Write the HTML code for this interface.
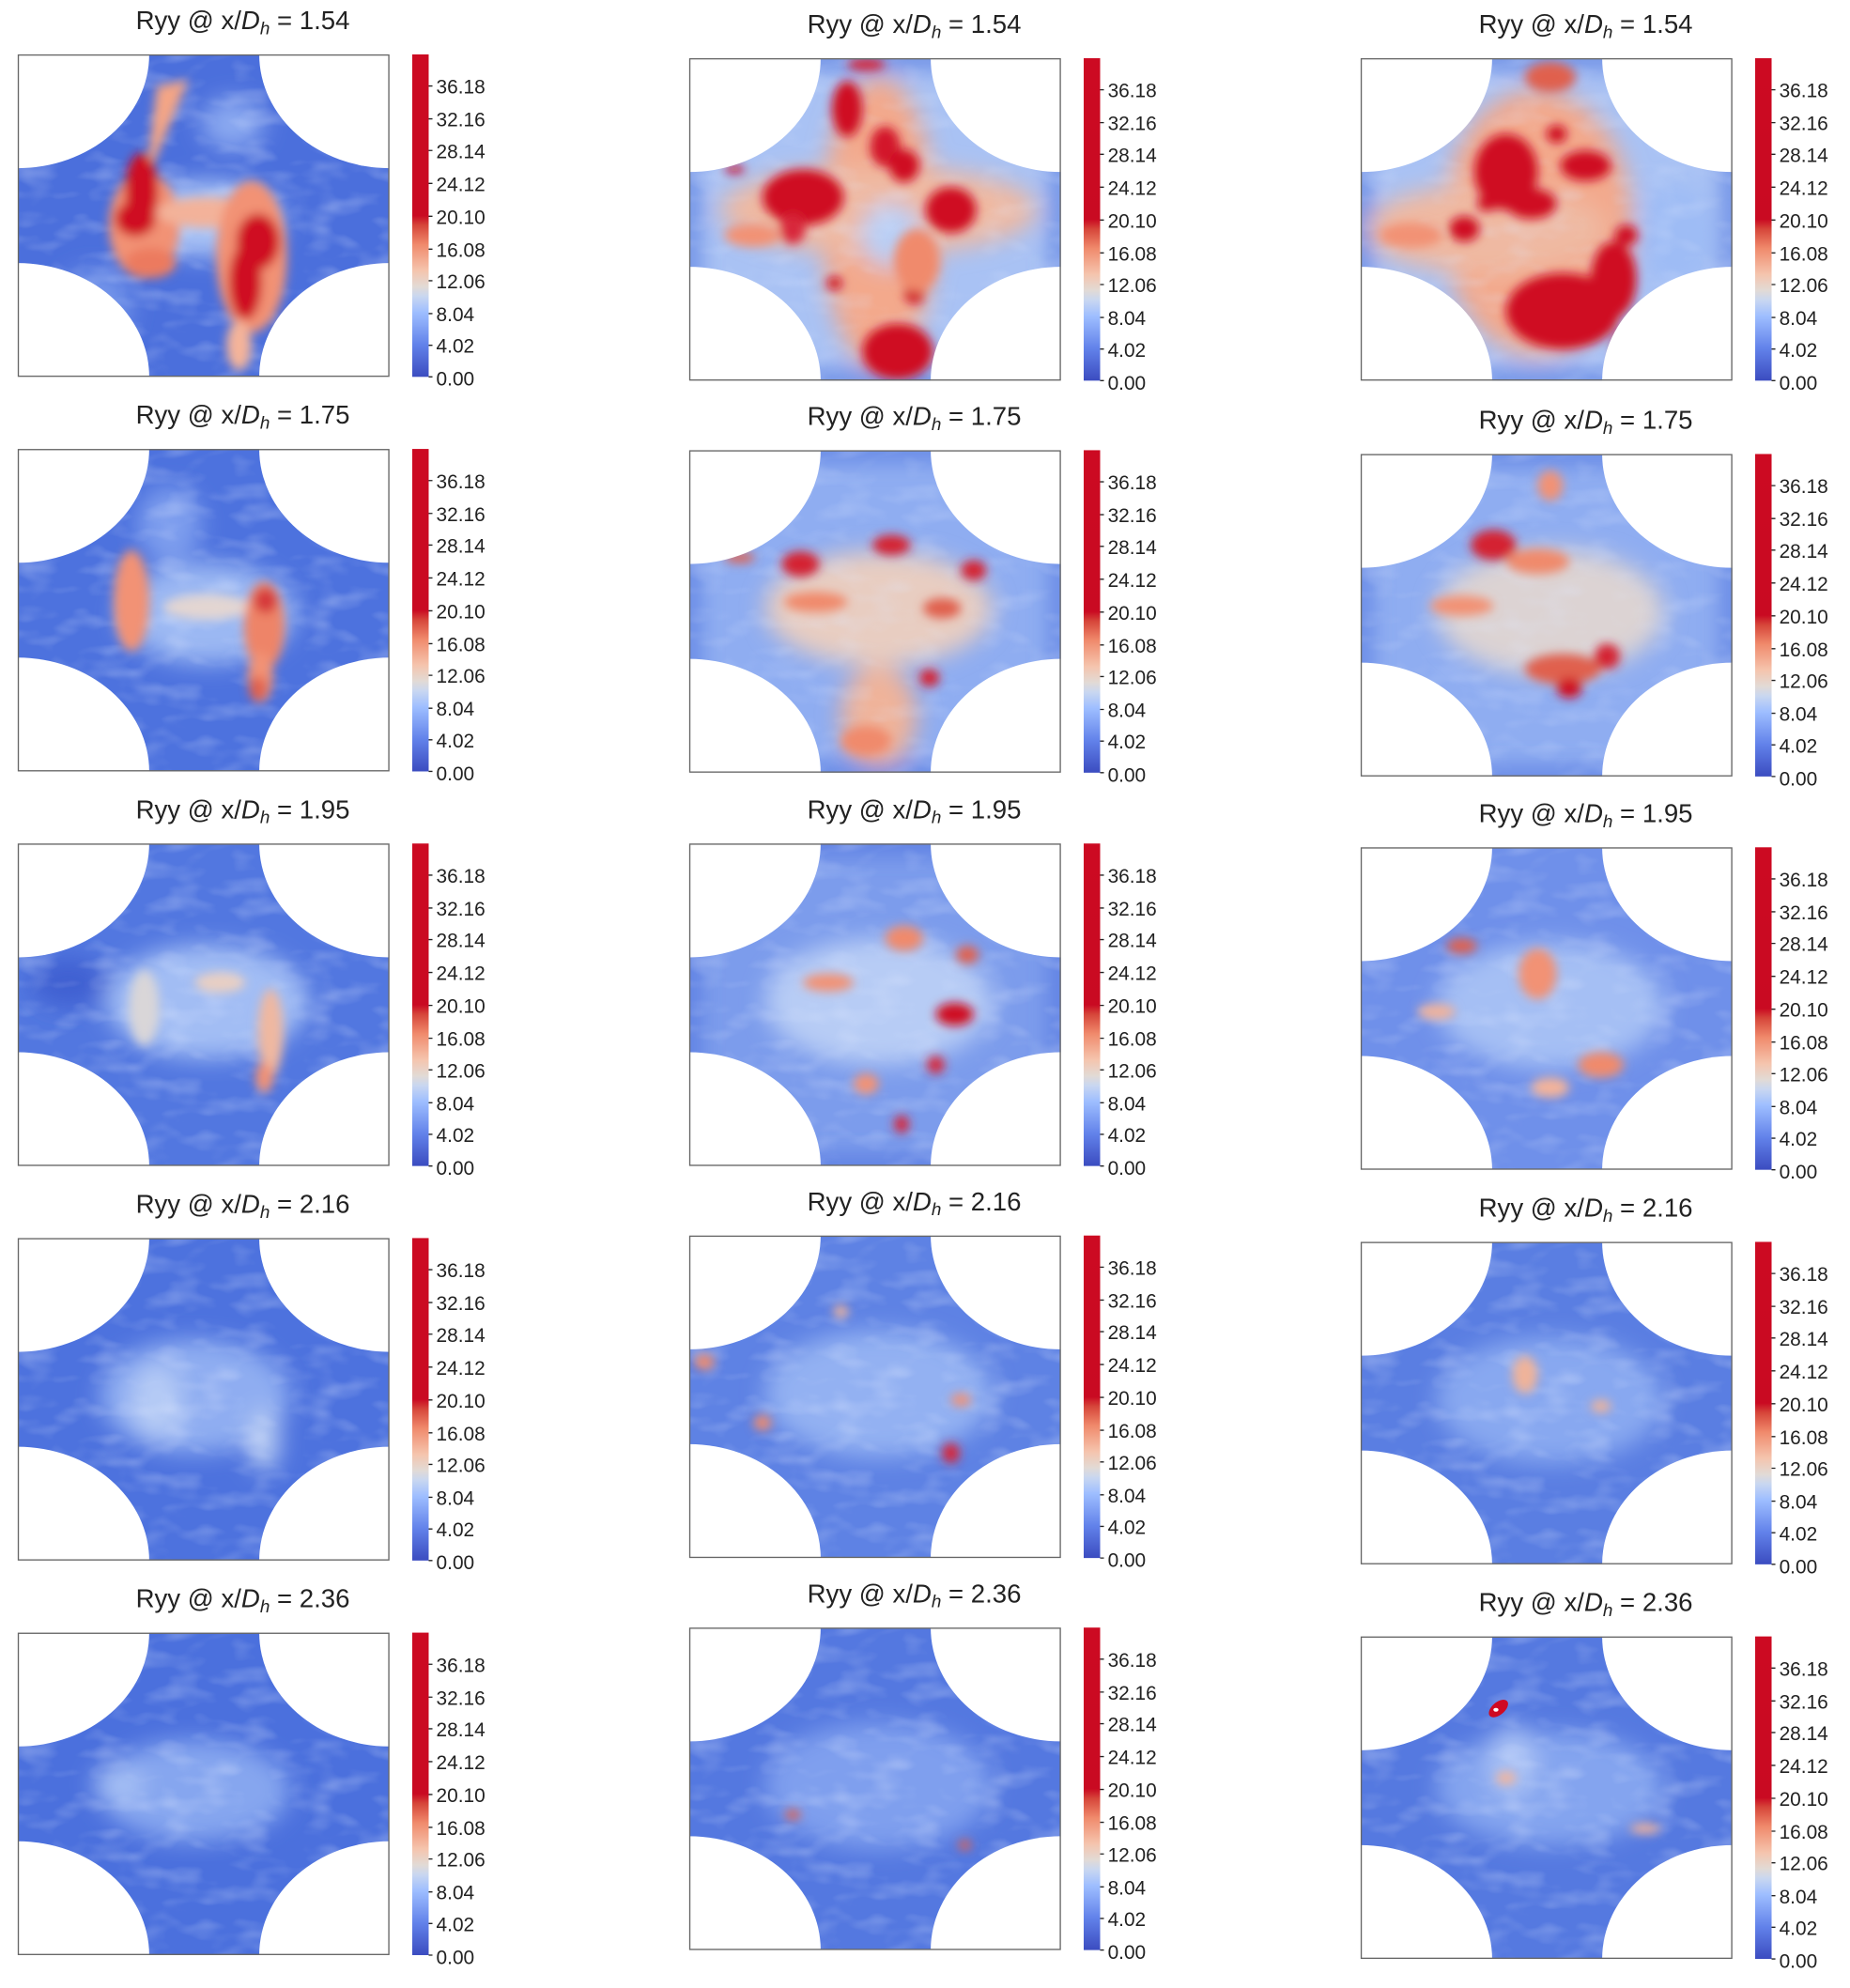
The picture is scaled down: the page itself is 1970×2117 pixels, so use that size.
<!DOCTYPE html>
<html><head><meta charset="utf-8"><style>
html,body{margin:0;padding:0;background:#fff}
svg{display:block}
text{font-family:"Liberation Sans","DejaVu Sans",sans-serif;fill:#222}
.t{font-size:20.5px;text-anchor:middle}
.k{font-size:15.5px}
.tk{stroke:#222;stroke-width:1;fill:none}
</style></head><body>
<svg width="1970" height="2117" viewBox="0 0 1463 1572" preserveAspectRatio="none" xmlns="http://www.w3.org/2000/svg">
<defs>
<linearGradient id="cb" x1="0" y1="1" x2="0" y2="0">
<stop offset="0" stop-color="#3b4cc0"/><stop offset="0.1" stop-color="#6282ea"/><stop offset="0.2" stop-color="#9ebeff"/>
<stop offset="0.25" stop-color="#c9d7f0"/><stop offset="0.28" stop-color="#e2dad5"/><stop offset="0.33" stop-color="#f5c4ad"/>
<stop offset="0.41" stop-color="#f08a6c"/><stop offset="0.47" stop-color="#d6463a"/><stop offset="0.5" stop-color="#c90a22"/><stop offset="1" stop-color="#cc0a22"/>
</linearGradient>
<filter id="b" x="-20%" y="-20%" width="140%" height="140%"><feGaussianBlur stdDeviation="4"/></filter>
<filter id="b2" x="-20%" y="-20%" width="140%" height="140%"><feGaussianBlur stdDeviation="9"/></filter>
<filter id="tx" x="0" y="0" width="100%" height="100%">
<feTurbulence type="fractalNoise" baseFrequency="0.035 0.07" numOctaves="2" seed="3"/>
<feColorMatrix values="0 0 0 0 0.75  0 0 0 0 0.82  0 0 0 0 1  1.6 0 0 0 -0.75"/>
</filter>
<mask id="m" maskUnits="userSpaceOnUse" x="0" y="0" width="294" height="255">
<rect x="0" y="0" width="294" height="255" fill="#fff"/>
<ellipse cx="0" cy="0" rx="104" ry="90" fill="#000"/><ellipse cx="294" cy="0" rx="103" ry="90" fill="#000"/>
<ellipse cx="0" cy="255" rx="104" ry="90" fill="#000"/><ellipse cx="294" cy="255" rx="103" ry="90" fill="#000"/>
</mask>
</defs>

<!-- ===== Column 1 ===== -->
<g transform="translate(14,43)">
<text class="t" x="178" y="-20">Ryy @ x/<tspan font-style="italic">D</tspan><tspan font-style="italic" font-size="14" dy="4">h</tspan><tspan dy="-4"> = 1.54</tspan></text>
<g mask="url(#m)"><rect width="294" height="255" fill="#4b6fdc"/>
<g filter="url(#b2)"><ellipse cx="170" cy="55" rx="25" ry="20" fill="#8aa8f0"/><ellipse cx="60" cy="200" rx="30" ry="30" fill="#7394ea"/><ellipse cx="150" cy="130" rx="60" ry="30" fill="#a9c2f5"/></g>
<rect width="294" height="255" filter="url(#tx)" opacity="0.45"/>
<g filter="url(#b)">
<path d="M110,25 L135,20 L110,80 L100,110 Z" fill="#f4a585"/>
<ellipse cx="100" cy="135" rx="28" ry="42" fill="#f29274"/>
<ellipse cx="150" cy="125" rx="40" ry="12" fill="#f3b29a"/>
<ellipse cx="185" cy="160" rx="28" ry="60" fill="#f29274"/>
<ellipse cx="175" cy="230" rx="10" ry="20" fill="#f4b49a"/>
<ellipse cx="105" cy="165" rx="20" ry="12" fill="#ec7a5e"/>
<ellipse cx="98" cy="108" rx="13" ry="30" fill="#cf0a22"/>
<ellipse cx="93" cy="130" rx="16" ry="14" fill="#cf0a22"/>
<ellipse cx="190" cy="148" rx="17" ry="22" fill="#cf0a22"/>
<ellipse cx="180" cy="180" rx="13" ry="30" fill="#cf0a22"/>
</g></g>
<rect x="0.5" y="0.5" width="293" height="254" fill="none" stroke="#666" stroke-width="1"/>
<rect x="312" y="0" width="13" height="255" fill="url(#cb)"/>
<path class="tk" d="M325,25h3M325,51h3M325,76h3M325,102h3M325,128h3M325,154h3M325,179h3M325,205h3M325,230h3M325,255h3"/>
<text class="k" x="331" y="31">36.18</text><text class="k" x="331" y="57">32.16</text><text class="k" x="331" y="82">28.14</text><text class="k" x="331" y="108">24.12</text><text class="k" x="331" y="134">20.10</text><text class="k" x="331" y="160">16.08</text><text class="k" x="331" y="185">12.06</text><text class="k" x="331" y="211">8.04</text><text class="k" x="331" y="236">4.02</text><text class="k" x="331" y="262">0.00</text>
</g>

<g transform="translate(14,355)">
<text class="t" x="178" y="-20">Ryy @ x/<tspan font-style="italic">D</tspan><tspan font-style="italic" font-size="14" dy="4">h</tspan><tspan dy="-4"> = 1.75</tspan></text>
<g mask="url(#m)"><rect width="294" height="255" fill="#4d72de"/>
<g filter="url(#b2)"><ellipse cx="150" cy="130" rx="70" ry="40" fill="#9bb8f3"/><ellipse cx="120" cy="60" rx="25" ry="30" fill="#7e9eee"/></g>
<rect width="294" height="255" filter="url(#tx)" opacity="0.45"/>
<g filter="url(#b)">
<ellipse cx="90" cy="120" rx="14" ry="40" fill="#f29274"/>
<ellipse cx="150" cy="125" rx="35" ry="10" fill="#e3d6d2"/>
<ellipse cx="195" cy="140" rx="16" ry="35" fill="#ee8467"/>
<ellipse cx="192" cy="180" rx="10" ry="20" fill="#f29274"/>
<ellipse cx="196" cy="120" rx="9" ry="10" fill="#d6383a"/>
<ellipse cx="190" cy="190" rx="7" ry="10" fill="#e0614d"/>
</g></g>
<rect x="0.5" y="0.5" width="293" height="254" fill="none" stroke="#666" stroke-width="1"/>
<rect x="312" y="0" width="13" height="255" fill="url(#cb)"/>
<path class="tk" d="M325,25h3M325,51h3M325,76h3M325,102h3M325,128h3M325,154h3M325,179h3M325,205h3M325,230h3M325,255h3"/>
<text class="k" x="331" y="31">36.18</text><text class="k" x="331" y="57">32.16</text><text class="k" x="331" y="82">28.14</text><text class="k" x="331" y="108">24.12</text><text class="k" x="331" y="134">20.10</text><text class="k" x="331" y="160">16.08</text><text class="k" x="331" y="185">12.06</text><text class="k" x="331" y="211">8.04</text><text class="k" x="331" y="236">4.02</text><text class="k" x="331" y="262">0.00</text>
</g>

<g transform="translate(14,667)">
<text class="t" x="178" y="-20">Ryy @ x/<tspan font-style="italic">D</tspan><tspan font-style="italic" font-size="14" dy="4">h</tspan><tspan dy="-4"> = 1.95</tspan></text>
<g mask="url(#m)"><rect width="294" height="255" fill="#5277e0"/>
<g filter="url(#b2)"><ellipse cx="150" cy="125" rx="80" ry="45" fill="#a2bdf4"/><ellipse cx="40" cy="110" rx="30" ry="20" fill="#3f60d2"/></g>
<rect width="294" height="255" filter="url(#tx)" opacity="0.45"/>
<g filter="url(#b)">
<ellipse cx="100" cy="130" rx="12" ry="30" fill="#d9d6d8"/>
<ellipse cx="160" cy="110" rx="20" ry="8" fill="#e8cfc3"/>
<ellipse cx="200" cy="150" rx="10" ry="35" fill="#efb8a0"/>
<ellipse cx="195" cy="185" rx="7" ry="12" fill="#f29274"/>
</g></g>
<rect x="0.5" y="0.5" width="293" height="254" fill="none" stroke="#666" stroke-width="1"/>
<rect x="312" y="0" width="13" height="255" fill="url(#cb)"/>
<path class="tk" d="M325,25h3M325,51h3M325,76h3M325,102h3M325,128h3M325,154h3M325,179h3M325,205h3M325,230h3M325,255h3"/>
<text class="k" x="331" y="31">36.18</text><text class="k" x="331" y="57">32.16</text><text class="k" x="331" y="82">28.14</text><text class="k" x="331" y="108">24.12</text><text class="k" x="331" y="134">20.10</text><text class="k" x="331" y="160">16.08</text><text class="k" x="331" y="185">12.06</text><text class="k" x="331" y="211">8.04</text><text class="k" x="331" y="236">4.02</text><text class="k" x="331" y="262">0.00</text>
</g>

<g transform="translate(14,979)">
<text class="t" x="178" y="-20">Ryy @ x/<tspan font-style="italic">D</tspan><tspan font-style="italic" font-size="14" dy="4">h</tspan><tspan dy="-4"> = 2.16</tspan></text>
<g mask="url(#m)"><rect width="294" height="255" fill="#4d72de"/>
<g filter="url(#b2)"><ellipse cx="140" cy="125" rx="75" ry="45" fill="#8fadf1"/><ellipse cx="110" cy="130" rx="20" ry="30" fill="#b5cbf5"/><ellipse cx="195" cy="160" rx="12" ry="25" fill="#b9cdf3"/></g>
<rect width="294" height="255" filter="url(#tx)" opacity="0.45"/>
</g>
<rect x="0.5" y="0.5" width="293" height="254" fill="none" stroke="#666" stroke-width="1"/>
<rect x="312" y="0" width="13" height="255" fill="url(#cb)"/>
<path class="tk" d="M325,25h3M325,51h3M325,76h3M325,102h3M325,128h3M325,154h3M325,179h3M325,205h3M325,230h3M325,255h3"/>
<text class="k" x="331" y="31">36.18</text><text class="k" x="331" y="57">32.16</text><text class="k" x="331" y="82">28.14</text><text class="k" x="331" y="108">24.12</text><text class="k" x="331" y="134">20.10</text><text class="k" x="331" y="160">16.08</text><text class="k" x="331" y="185">12.06</text><text class="k" x="331" y="211">8.04</text><text class="k" x="331" y="236">4.02</text><text class="k" x="331" y="262">0.00</text>
</g>

<g transform="translate(14,1291)">
<text class="t" x="178" y="-20">Ryy @ x/<tspan font-style="italic">D</tspan><tspan font-style="italic" font-size="14" dy="4">h</tspan><tspan dy="-4"> = 2.36</tspan></text>
<g mask="url(#m)"><rect width="294" height="255" fill="#4b70dd"/>
<g filter="url(#b2)"><ellipse cx="140" cy="125" rx="75" ry="40" fill="#86a6ef"/><ellipse cx="80" cy="120" rx="20" ry="15" fill="#a5bff4"/></g>
<rect width="294" height="255" filter="url(#tx)" opacity="0.45"/>
</g>
<rect x="0.5" y="0.5" width="293" height="254" fill="none" stroke="#666" stroke-width="1"/>
<rect x="312" y="0" width="13" height="255" fill="url(#cb)"/>
<path class="tk" d="M325,25h3M325,51h3M325,76h3M325,102h3M325,128h3M325,154h3M325,179h3M325,205h3M325,230h3M325,255h3"/>
<text class="k" x="331" y="31">36.18</text><text class="k" x="331" y="57">32.16</text><text class="k" x="331" y="82">28.14</text><text class="k" x="331" y="108">24.12</text><text class="k" x="331" y="134">20.10</text><text class="k" x="331" y="160">16.08</text><text class="k" x="331" y="185">12.06</text><text class="k" x="331" y="211">8.04</text><text class="k" x="331" y="236">4.02</text><text class="k" x="331" y="262">0.00</text>
</g>

<!-- ===== Column 2 ===== -->
<g transform="translate(545,46)">
<text class="t" x="178" y="-20">Ryy @ x/<tspan font-style="italic">D</tspan><tspan font-style="italic" font-size="14" dy="4">h</tspan><tspan dy="-4"> = 1.54</tspan></text>
<g mask="url(#m)"><rect width="294" height="255" fill="#a9c2f4"/>
<g filter="url(#b2)"><rect x="0" y="0" width="294" height="255" fill="none" stroke="#5c80e2" stroke-width="14"/><ellipse cx="150" cy="130" rx="45" ry="115" fill="#f3a98c"/><ellipse cx="150" cy="120" rx="125" ry="35" fill="#efb9a2"/><ellipse cx="160" cy="140" rx="25" ry="25" fill="#b9cff5"/></g>
<rect width="294" height="255" filter="url(#tx)" opacity="0.35"/>
<g filter="url(#b)">
<ellipse cx="90" cy="110" rx="32" ry="22" fill="#cf0a22"/>
<ellipse cx="82" cy="135" rx="10" ry="12" fill="#d8283a"/>
<ellipse cx="207" cy="120" rx="20" ry="18" fill="#cf0a22"/>
<ellipse cx="125" cy="40" rx="12" ry="22" fill="#cf0a22"/>
<ellipse cx="155" cy="70" rx="12" ry="16" fill="#d3162a"/>
<ellipse cx="170" cy="85" rx="12" ry="13" fill="#cf0a22"/>
<ellipse cx="178" cy="185" rx="8" ry="9" fill="#cf0a22"/>
<ellipse cx="165" cy="232" rx="28" ry="22" fill="#cf0a22"/>
<ellipse cx="115" cy="178" rx="6" ry="5" fill="#cf0a22"/>
<ellipse cx="36" cy="88" rx="8" ry="3" fill="#cf0a22"/>
<ellipse cx="140" cy="5" rx="15" ry="5" fill="#d6283a"/>
<ellipse cx="50" cy="140" rx="22" ry="9" fill="#f29274"/>
<ellipse cx="180" cy="160" rx="18" ry="25" fill="#f08a6c"/>
</g></g>
<rect x="0.5" y="0.5" width="293" height="254" fill="none" stroke="#666" stroke-width="1"/>
<rect x="312" y="0" width="13" height="255" fill="url(#cb)"/>
<path class="tk" d="M325,25h3M325,51h3M325,76h3M325,102h3M325,128h3M325,154h3M325,179h3M325,205h3M325,230h3M325,255h3"/>
<text class="k" x="331" y="31">36.18</text><text class="k" x="331" y="57">32.16</text><text class="k" x="331" y="82">28.14</text><text class="k" x="331" y="108">24.12</text><text class="k" x="331" y="134">20.10</text><text class="k" x="331" y="160">16.08</text><text class="k" x="331" y="185">12.06</text><text class="k" x="331" y="211">8.04</text><text class="k" x="331" y="236">4.02</text><text class="k" x="331" y="262">0.00</text>
</g>

<g transform="translate(545,356)">
<text class="t" x="178" y="-20">Ryy @ x/<tspan font-style="italic">D</tspan><tspan font-style="italic" font-size="14" dy="4">h</tspan><tspan dy="-4"> = 1.75</tspan></text>
<g mask="url(#m)"><rect width="294" height="255" fill="#8fadf1"/>
<g filter="url(#b2)"><rect x="0" y="0" width="294" height="255" fill="none" stroke="#5a7ee2" stroke-width="14"/><ellipse cx="150" cy="125" rx="90" ry="45" fill="#e8cdc1"/><ellipse cx="150" cy="210" rx="30" ry="40" fill="#efb39a"/></g>
<rect width="294" height="255" filter="url(#tx)" opacity="0.35"/>
<g filter="url(#b)">
<ellipse cx="88" cy="90" rx="15" ry="10" fill="#d42030"/>
<ellipse cx="160" cy="75" rx="15" ry="8" fill="#d42030"/>
<ellipse cx="225" cy="95" rx="10" ry="8" fill="#d42030"/>
<ellipse cx="200" cy="125" rx="15" ry="8" fill="#e0614d"/>
<ellipse cx="100" cy="120" rx="25" ry="8" fill="#f08a6c"/>
<ellipse cx="190" cy="180" rx="8" ry="7" fill="#d42030"/>
<ellipse cx="140" cy="230" rx="20" ry="12" fill="#f08a6c"/>
<ellipse cx="40" cy="85" rx="12" ry="4" fill="#e0614d"/>
</g></g>
<rect x="0.5" y="0.5" width="293" height="254" fill="none" stroke="#666" stroke-width="1"/>
<rect x="312" y="0" width="13" height="255" fill="url(#cb)"/>
<path class="tk" d="M325,25h3M325,51h3M325,76h3M325,102h3M325,128h3M325,154h3M325,179h3M325,205h3M325,230h3M325,255h3"/>
<text class="k" x="331" y="31">36.18</text><text class="k" x="331" y="57">32.16</text><text class="k" x="331" y="82">28.14</text><text class="k" x="331" y="108">24.12</text><text class="k" x="331" y="134">20.10</text><text class="k" x="331" y="160">16.08</text><text class="k" x="331" y="185">12.06</text><text class="k" x="331" y="211">8.04</text><text class="k" x="331" y="236">4.02</text><text class="k" x="331" y="262">0.00</text>
</g>

<g transform="translate(545,667)">
<text class="t" x="178" y="-20">Ryy @ x/<tspan font-style="italic">D</tspan><tspan font-style="italic" font-size="14" dy="4">h</tspan><tspan dy="-4"> = 1.95</tspan></text>
<g mask="url(#m)"><rect width="294" height="255" fill="#7c9cec"/>
<g filter="url(#b2)"><rect x="0" y="0" width="294" height="255" fill="none" stroke="#5477e0" stroke-width="14"/><ellipse cx="150" cy="125" rx="90" ry="50" fill="#b7ccf5"/></g>
<rect width="294" height="255" filter="url(#tx)" opacity="0.4"/>
<g filter="url(#b)">
<ellipse cx="170" cy="75" rx="15" ry="10" fill="#f08a6c"/>
<ellipse cx="220" cy="88" rx="9" ry="7" fill="#e0614d"/>
<ellipse cx="210" cy="135" rx="15" ry="9" fill="#cf0a22"/>
<ellipse cx="195" cy="175" rx="7" ry="7" fill="#d6283a"/>
<ellipse cx="168" cy="222" rx="6" ry="7" fill="#d6283a"/>
<ellipse cx="110" cy="110" rx="20" ry="7" fill="#f29274"/>
<ellipse cx="140" cy="190" rx="10" ry="8" fill="#f29274"/>
</g></g>
<rect x="0.5" y="0.5" width="293" height="254" fill="none" stroke="#666" stroke-width="1"/>
<rect x="312" y="0" width="13" height="255" fill="url(#cb)"/>
<path class="tk" d="M325,25h3M325,51h3M325,76h3M325,102h3M325,128h3M325,154h3M325,179h3M325,205h3M325,230h3M325,255h3"/>
<text class="k" x="331" y="31">36.18</text><text class="k" x="331" y="57">32.16</text><text class="k" x="331" y="82">28.14</text><text class="k" x="331" y="108">24.12</text><text class="k" x="331" y="134">20.10</text><text class="k" x="331" y="160">16.08</text><text class="k" x="331" y="185">12.06</text><text class="k" x="331" y="211">8.04</text><text class="k" x="331" y="236">4.02</text><text class="k" x="331" y="262">0.00</text>
</g>

<g transform="translate(545,977)">
<text class="t" x="178" y="-20">Ryy @ x/<tspan font-style="italic">D</tspan><tspan font-style="italic" font-size="14" dy="4">h</tspan><tspan dy="-4"> = 2.16</tspan></text>
<g mask="url(#m)"><rect width="294" height="255" fill="#5e82e4"/>
<g filter="url(#b2)"><ellipse cx="150" cy="125" rx="90" ry="50" fill="#93b1f2"/></g>
<rect width="294" height="255" filter="url(#tx)" opacity="0.45"/>
<g filter="url(#b)">
<ellipse cx="12" cy="100" rx="8" ry="6" fill="#f08a6c"/>
<ellipse cx="58" cy="148" rx="7" ry="6" fill="#f08a6c"/>
<ellipse cx="207" cy="172" rx="7" ry="8" fill="#d6283a"/>
<ellipse cx="215" cy="130" rx="8" ry="5" fill="#f29274"/>
<ellipse cx="120" cy="60" rx="6" ry="5" fill="#efb39a"/>
</g></g>
<rect x="0.5" y="0.5" width="293" height="254" fill="none" stroke="#666" stroke-width="1"/>
<rect x="312" y="0" width="13" height="255" fill="url(#cb)"/>
<path class="tk" d="M325,25h3M325,51h3M325,76h3M325,102h3M325,128h3M325,154h3M325,179h3M325,205h3M325,230h3M325,255h3"/>
<text class="k" x="331" y="31">36.18</text><text class="k" x="331" y="57">32.16</text><text class="k" x="331" y="82">28.14</text><text class="k" x="331" y="108">24.12</text><text class="k" x="331" y="134">20.10</text><text class="k" x="331" y="160">16.08</text><text class="k" x="331" y="185">12.06</text><text class="k" x="331" y="211">8.04</text><text class="k" x="331" y="236">4.02</text><text class="k" x="331" y="262">0.00</text>
</g>

<g transform="translate(545,1287)">
<text class="t" x="178" y="-20">Ryy @ x/<tspan font-style="italic">D</tspan><tspan font-style="italic" font-size="14" dy="4">h</tspan><tspan dy="-4"> = 2.36</tspan></text>
<g mask="url(#m)"><rect width="294" height="255" fill="#5478e0"/>
<g filter="url(#b2)"><ellipse cx="150" cy="125" rx="90" ry="50" fill="#7f9fee"/></g>
<rect width="294" height="255" filter="url(#tx)" opacity="0.45"/>
<g filter="url(#b)">
<ellipse cx="82" cy="148" rx="6" ry="4" fill="#e0614d"/>
<ellipse cx="218" cy="172" rx="5" ry="4" fill="#e0614d"/>
</g></g>
<rect x="0.5" y="0.5" width="293" height="254" fill="none" stroke="#666" stroke-width="1"/>
<rect x="312" y="0" width="13" height="255" fill="url(#cb)"/>
<path class="tk" d="M325,25h3M325,51h3M325,76h3M325,102h3M325,128h3M325,154h3M325,179h3M325,205h3M325,230h3M325,255h3"/>
<text class="k" x="331" y="31">36.18</text><text class="k" x="331" y="57">32.16</text><text class="k" x="331" y="82">28.14</text><text class="k" x="331" y="108">24.12</text><text class="k" x="331" y="134">20.10</text><text class="k" x="331" y="160">16.08</text><text class="k" x="331" y="185">12.06</text><text class="k" x="331" y="211">8.04</text><text class="k" x="331" y="236">4.02</text><text class="k" x="331" y="262">0.00</text>
</g>

<!-- ===== Column 3 ===== -->
<g transform="translate(1076,46)">
<text class="t" x="178" y="-20">Ryy @ x/<tspan font-style="italic">D</tspan><tspan font-style="italic" font-size="14" dy="4">h</tspan><tspan dy="-4"> = 1.54</tspan></text>
<g mask="url(#m)"><rect width="294" height="255" fill="#a9c2f4"/>
<g filter="url(#b2)"><rect x="0" y="0" width="294" height="255" fill="none" stroke="#5c80e2" stroke-width="14"/><ellipse cx="140" cy="130" rx="75" ry="105" fill="#f3a98c"/><ellipse cx="100" cy="135" rx="95" ry="35" fill="#efb9a2"/><ellipse cx="250" cy="140" rx="30" ry="40" fill="#9ebcf5"/></g>
<rect width="294" height="255" filter="url(#tx)" opacity="0.35"/>
<g filter="url(#b)">
<ellipse cx="115" cy="90" rx="25" ry="30" fill="#cf0a22"/>
<ellipse cx="135" cy="115" rx="20" ry="12" fill="#cf0a22"/>
<ellipse cx="178" cy="85" rx="20" ry="12" fill="#cf0a22"/>
<ellipse cx="160" cy="200" rx="45" ry="30" fill="#cf0a22"/>
<ellipse cx="200" cy="175" rx="18" ry="30" fill="#cf0a22"/>
<ellipse cx="210" cy="230" rx="10" ry="15" fill="#cf0a22"/>
<ellipse cx="82" cy="135" rx="12" ry="10" fill="#cf0a22"/>
<ellipse cx="100" cy="115" rx="8" ry="6" fill="#cf0a22"/>
<ellipse cx="210" cy="140" rx="9" ry="8" fill="#cf0a22"/>
<ellipse cx="155" cy="60" rx="8" ry="7" fill="#cf0a22"/>
<ellipse cx="150" cy="15" rx="20" ry="12" fill="#e0614d"/>
<ellipse cx="40" cy="140" rx="25" ry="10" fill="#f29274"/>
</g></g>
<rect x="0.5" y="0.5" width="293" height="254" fill="none" stroke="#666" stroke-width="1"/>
<rect x="312" y="0" width="13" height="255" fill="url(#cb)"/>
<path class="tk" d="M325,25h3M325,51h3M325,76h3M325,102h3M325,128h3M325,154h3M325,179h3M325,205h3M325,230h3M325,255h3"/>
<text class="k" x="331" y="31">36.18</text><text class="k" x="331" y="57">32.16</text><text class="k" x="331" y="82">28.14</text><text class="k" x="331" y="108">24.12</text><text class="k" x="331" y="134">20.10</text><text class="k" x="331" y="160">16.08</text><text class="k" x="331" y="185">12.06</text><text class="k" x="331" y="211">8.04</text><text class="k" x="331" y="236">4.02</text><text class="k" x="331" y="262">0.00</text>
</g>

<g transform="translate(1076,359)">
<text class="t" x="178" y="-20">Ryy @ x/<tspan font-style="italic">D</tspan><tspan font-style="italic" font-size="14" dy="4">h</tspan><tspan dy="-4"> = 1.75</tspan></text>
<g mask="url(#m)"><rect width="294" height="255" fill="#8fadf1"/>
<g filter="url(#b2)"><rect x="0" y="0" width="294" height="255" fill="none" stroke="#5a7ee2" stroke-width="14"/><ellipse cx="150" cy="125" rx="90" ry="50" fill="#dcd3d3"/></g>
<rect width="294" height="255" filter="url(#tx)" opacity="0.35"/>
<g filter="url(#b)">
<ellipse cx="105" cy="72" rx="18" ry="12" fill="#d42030"/>
<ellipse cx="140" cy="85" rx="25" ry="10" fill="#f08a6c"/>
<ellipse cx="160" cy="170" rx="30" ry="12" fill="#e0614d"/>
<ellipse cx="165" cy="185" rx="10" ry="8" fill="#cf0a22"/>
<ellipse cx="195" cy="160" rx="10" ry="10" fill="#d42030"/>
<ellipse cx="80" cy="120" rx="25" ry="8" fill="#f29274"/>
<ellipse cx="150" cy="25" rx="10" ry="12" fill="#f29274"/>
</g></g>
<rect x="0.5" y="0.5" width="293" height="254" fill="none" stroke="#666" stroke-width="1"/>
<rect x="312" y="0" width="13" height="255" fill="url(#cb)"/>
<path class="tk" d="M325,25h3M325,51h3M325,76h3M325,102h3M325,128h3M325,154h3M325,179h3M325,205h3M325,230h3M325,255h3"/>
<text class="k" x="331" y="31">36.18</text><text class="k" x="331" y="57">32.16</text><text class="k" x="331" y="82">28.14</text><text class="k" x="331" y="108">24.12</text><text class="k" x="331" y="134">20.10</text><text class="k" x="331" y="160">16.08</text><text class="k" x="331" y="185">12.06</text><text class="k" x="331" y="211">8.04</text><text class="k" x="331" y="236">4.02</text><text class="k" x="331" y="262">0.00</text>
</g>

<g transform="translate(1076,670)">
<text class="t" x="178" y="-20">Ryy @ x/<tspan font-style="italic">D</tspan><tspan font-style="italic" font-size="14" dy="4">h</tspan><tspan dy="-4"> = 1.95</tspan></text>
<g mask="url(#m)"><rect width="294" height="255" fill="#6f90ea"/>
<g filter="url(#b2)"><ellipse cx="150" cy="125" rx="90" ry="50" fill="#a5bff4"/></g>
<rect width="294" height="255" filter="url(#tx)" opacity="0.4"/>
<g filter="url(#b)">
<ellipse cx="80" cy="78" rx="12" ry="6" fill="#e0614d"/>
<ellipse cx="140" cy="100" rx="15" ry="20" fill="#f29274"/>
<ellipse cx="190" cy="172" rx="18" ry="10" fill="#f08a6c"/>
<ellipse cx="150" cy="190" rx="15" ry="8" fill="#f4b49a"/>
<ellipse cx="60" cy="130" rx="15" ry="6" fill="#f4b49a"/>
</g></g>
<rect x="0.5" y="0.5" width="293" height="254" fill="none" stroke="#666" stroke-width="1"/>
<rect x="312" y="0" width="13" height="255" fill="url(#cb)"/>
<path class="tk" d="M325,25h3M325,51h3M325,76h3M325,102h3M325,128h3M325,154h3M325,179h3M325,205h3M325,230h3M325,255h3"/>
<text class="k" x="331" y="31">36.18</text><text class="k" x="331" y="57">32.16</text><text class="k" x="331" y="82">28.14</text><text class="k" x="331" y="108">24.12</text><text class="k" x="331" y="134">20.10</text><text class="k" x="331" y="160">16.08</text><text class="k" x="331" y="185">12.06</text><text class="k" x="331" y="211">8.04</text><text class="k" x="331" y="236">4.02</text><text class="k" x="331" y="262">0.00</text>
</g>

<g transform="translate(1076,982)">
<text class="t" x="178" y="-20">Ryy @ x/<tspan font-style="italic">D</tspan><tspan font-style="italic" font-size="14" dy="4">h</tspan><tspan dy="-4"> = 2.16</tspan></text>
<g mask="url(#m)"><rect width="294" height="255" fill="#5a7ee2"/>
<g filter="url(#b2)"><ellipse cx="150" cy="125" rx="90" ry="50" fill="#88a8f0"/></g>
<rect width="294" height="255" filter="url(#tx)" opacity="0.45"/>
<g filter="url(#b)">
<ellipse cx="130" cy="105" rx="10" ry="15" fill="#efb39a"/>
<ellipse cx="190" cy="130" rx="8" ry="5" fill="#efb39a"/>
</g></g>
<rect x="0.5" y="0.5" width="293" height="254" fill="none" stroke="#666" stroke-width="1"/>
<rect x="312" y="0" width="13" height="255" fill="url(#cb)"/>
<path class="tk" d="M325,25h3M325,51h3M325,76h3M325,102h3M325,128h3M325,154h3M325,179h3M325,205h3M325,230h3M325,255h3"/>
<text class="k" x="331" y="31">36.18</text><text class="k" x="331" y="57">32.16</text><text class="k" x="331" y="82">28.14</text><text class="k" x="331" y="108">24.12</text><text class="k" x="331" y="134">20.10</text><text class="k" x="331" y="160">16.08</text><text class="k" x="331" y="185">12.06</text><text class="k" x="331" y="211">8.04</text><text class="k" x="331" y="236">4.02</text><text class="k" x="331" y="262">0.00</text>
</g>

<g transform="translate(1076,1294)">
<text class="t" x="178" y="-20">Ryy @ x/<tspan font-style="italic">D</tspan><tspan font-style="italic" font-size="14" dy="4">h</tspan><tspan dy="-4"> = 2.36</tspan></text>
<g mask="url(#m)"><rect width="294" height="255" fill="#5579e0"/>
<g filter="url(#b2)"><ellipse cx="150" cy="120" rx="90" ry="45" fill="#84a4ef"/><ellipse cx="120" cy="100" rx="20" ry="30" fill="#a7c0f4"/></g>
<rect width="294" height="255" filter="url(#tx)" opacity="0.45"/>
<g filter="url(#b)">
<ellipse cx="115" cy="112" rx="8" ry="5" fill="#f4b49a"/>
<ellipse cx="225" cy="152" rx="12" ry="4" fill="#f4b49a"/>
</g>
<ellipse cx="109" cy="57" rx="9" ry="5" transform="rotate(-40 109 57)" fill="#cf0a22"/>
<ellipse cx="107" cy="58" rx="2" ry="1.5" fill="#fff"/>
</g>
<rect x="0.5" y="0.5" width="293" height="254" fill="none" stroke="#666" stroke-width="1"/>
<rect x="312" y="0" width="13" height="255" fill="url(#cb)"/>
<path class="tk" d="M325,25h3M325,51h3M325,76h3M325,102h3M325,128h3M325,154h3M325,179h3M325,205h3M325,230h3M325,255h3"/>
<text class="k" x="331" y="31">36.18</text><text class="k" x="331" y="57">32.16</text><text class="k" x="331" y="82">28.14</text><text class="k" x="331" y="108">24.12</text><text class="k" x="331" y="134">20.10</text><text class="k" x="331" y="160">16.08</text><text class="k" x="331" y="185">12.06</text><text class="k" x="331" y="211">8.04</text><text class="k" x="331" y="236">4.02</text><text class="k" x="331" y="262">0.00</text>
</g>
</svg>
</body></html>
